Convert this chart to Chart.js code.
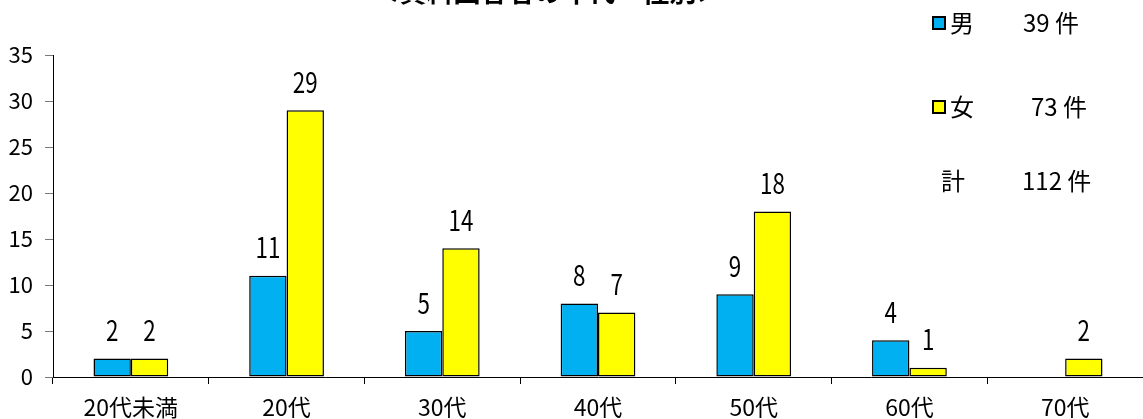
<!DOCTYPE html>
<html lang="ja">
<head>
<meta charset="utf-8">
<script src="https://cdn.jsdelivr.net/npm/chart.js@4"></script>
<style>
  body { margin: 0; background: #fff; }
  #wrap { width: 1143px; height: 419px; }
</style>
</head>
<body>
<div id="wrap"><canvas id="chart" width="1143" height="419"></canvas></div>
<script>
const chartTitle = '＜資料回答者の年代・性別＞';
const ageGroups = ['20代未満', '20代', '30代', '40代', '50代', '60代', '70代'];
const maleCounts = [2, 11, 5, 8, 9, 4, 0];
const femaleCounts = [2, 29, 14, 7, 18, 1, 2];
const seriesNames = ['男', '女'];
const totalName = '計';
const unit = '件';
const yMax = 35;
const yStep = 5;

const FONT = "'Noto Sans CJK JP', 'Liberation Sans', sans-serif";
const colors = ['#00B0F0', '#FFFF00'];

const sum = arr => arr.reduce((a, b) => a + b, 0);

// title is cut off at the top in the original picture
const titlePlugin = {
    id: 'topTitle',
    afterDraw(chart) {
        const c = chart.ctx;
        c.save();
        c.font = "bold 27px 'Noto Sans CJK JP', sans-serif";
        c.fillStyle = '#000';
        c.textAlign = 'center';
        c.textBaseline = 'alphabetic';
        c.fillText(chartTitle, 548, 2);
        c.restore();
    }
};

// value labels above each bar (squeezed a bit, the original font is narrow)
const valueLabels = {
    id: 'valueLabels',
    afterDatasetsDraw(chart) {
        const c = chart.ctx;
        chart.data.datasets.forEach((ds, i) => {
            chart.getDatasetMeta(i).data.forEach((bar, j) => {
                const v = ds.data[j];
                if (!v) return;
                c.save();
                c.translate(bar.x, bar.y - 28);
                c.scale(0.8, 1);
                c.font = '28px ' + FONT;
                c.fillStyle = '#000';
                c.textAlign = 'center';
                c.textBaseline = 'middle';
                c.fillText(String(v), 0, 0);
                c.restore();
            });
        });
    }
};

// legend block on the right with totals
const sideLegend = {
    id: 'sideLegend',
    afterDraw(chart) {
        const c = chart.ctx;
        const totals = [sum(maleCounts), sum(femaleCounts)];
        const rows = [
            { y: 23, box: colors[0], name: seriesNames[0], text: totals[0] + ' ' + unit, tx: 1023 },
            { y: 107, box: colors[1], name: seriesNames[1], text: totals[1] + ' ' + unit, tx: 1031 },
            { y: 181, box: null, name: totalName, text: (totals[0] + totals[1]) + ' ' + unit, tx: 1022 }
        ];
        c.save();
        c.font = '24px ' + FONT;
        c.textBaseline = 'middle';
        c.textAlign = 'left';
        rows.forEach(r => {
            if (r.box) {
                c.fillStyle = r.box;
                c.fillRect(933, r.y - 6, 12, 12);
                c.strokeStyle = '#000';
                c.lineWidth = 2;
                c.strokeRect(933, r.y - 6, 12, 12);
                c.fillStyle = '#000';
                c.fillText(r.name, 950, r.y);
            } else {
                c.fillStyle = '#000';
                c.fillText(r.name, 941, r.y);
            }
            c.fillText(r.text, r.tx, r.y);
        });
        c.restore();
    }
};

const ctx = document.getElementById('chart').getContext('2d');
const chart = new Chart(ctx, {
    type: 'bar',
    data: {
        labels: ageGroups,
        datasets: [maleCounts, femaleCounts].map((arr, i) => ({
            label: seriesNames[i],
            data: arr.map(v => (v === 0 ? null : v)),
            backgroundColor: colors[i],
            borderColor: '#000',
            borderWidth: 1.5,
            borderSkipped: false,
            categoryPercentage: 0.48,
            barPercentage: 1.0
        }))
    },
    options: {
        responsive: false,
        animation: false,
        layout: { padding: { top: 55, right: 0, left: 0, bottom: 0 } },
        plugins: {
            legend: { display: false },
            title: { display: false },
            tooltip: { enabled: false }
        },
        scales: {
            x: {
                grid: {
                    display: true,
                    drawOnChartArea: false,
                    tickLength: 7,
                    color: '#000',
                    offset: true
                },
                border: { display: true, color: '#000', width: 1 },
                ticks: {
                    color: '#000',
                    font: { family: FONT, size: 23 },
                    padding: 9,
                    maxRotation: 0
                },
                afterFit(scale) { scale.height = 42; }
            },
            y: {
                min: 0,
                max: yMax,
                grid: {
                    display: true,
                    drawOnChartArea: false,
                    tickLength: 8,
                    color: '#777'
                },
                border: { display: true, color: '#000', width: 1 },
                ticks: {
                    stepSize: yStep,
                    color: '#000',
                    font: { family: FONT, size: 22 },
                    padding: 12
                },
                afterFit(scale) { scale.width = 53; }
            }
        }
    },
    plugins: [titlePlugin, valueLabels, sideLegend]
});
</script>
</body>
</html>
